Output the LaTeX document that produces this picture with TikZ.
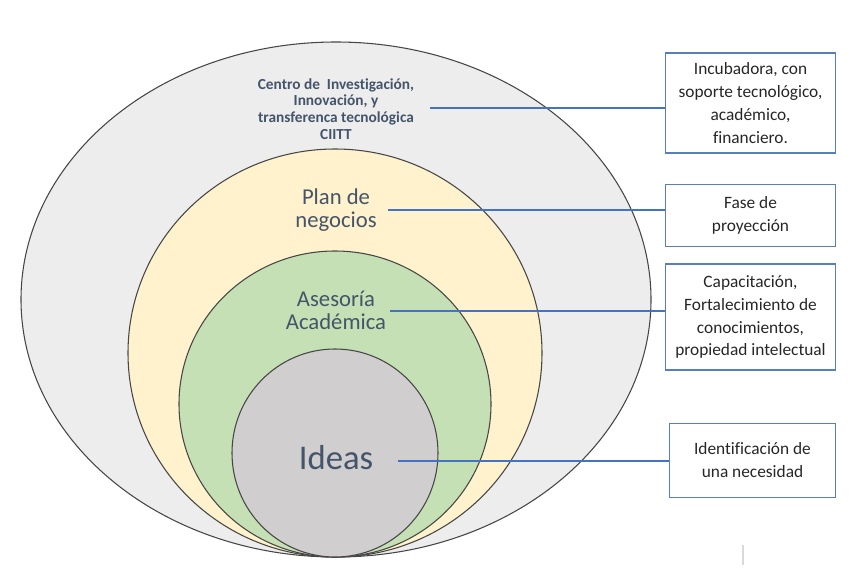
\documentclass[tikz,border=0pt]{standalone}
\usepackage{fontspec}
\setmainfont{Carlito}[Ligatures=NoCommon]
\usepackage{tikz}
\usetikzlibrary{positioning,calc}
\definecolor{outergray}{RGB}{237,237,237}
\definecolor{paleyellow}{RGB}{255,242,204}
\definecolor{palegreen}{RGB}{197,224,180}
\definecolor{midgray}{RGB}{208,206,206}
\definecolor{rimgray}{RGB}{70,70,70}
\definecolor{slate}{RGB}{68,84,106}
\definecolor{linkblue}{RGB}{68,114,196}
\definecolor{boxblue}{RGB}{90,125,190}
\tikzset{
  ring/.style={draw=rimgray, line width=0.8pt},
  ringlabel/.style={align=center, text=slate, inner sep=0pt},
  notebox/.style={draw=boxblue, line width=0.9pt, align=center, text=black!85,
    font=\fontsize{13}{17.2}\selectfont, inner sep=1pt},
  link/.style={draw=linkblue, line width=0.9pt}
}
\begin{document}
\begin{tikzpicture}[x=0.75pt, y=-0.75pt]
\useasboundingbox (0,0) rectangle (865,585);

% nested rings, all touching at the bottom
\draw[ring, fill=outergray] (336,299.5) ellipse [x radius=315, y radius=257.5];
\draw[ring, fill=paleyellow] (335,353) ellipse [x radius=207, y radius=204];
\draw[ring, fill=palegreen] (335,404) ellipse [x radius=156, y radius=153];
\draw[ring, fill=midgray] (335,453) ellipse [x radius=103, y radius=104];

\node[ringlabel, font=\bfseries\fontsize{11.5}{12.5}\selectfont] (ciitt) at (336,109)
  {Centro de~ Investigación,\\Innovación, y\\transferenca tecnológica\\CIITT};
\node[ringlabel, font=\fontsize{17}{17.3}\selectfont] (plan) at (336,210) {Plan de\\negocios};
\node[ringlabel, font=\fontsize{17}{17.3}\selectfont] (asesoria) at (336,310) {Asesoría\\Académica};
\node[ringlabel, font=\fontsize{26}{30}\selectfont] (ideas) at (336,458) {Ideas};

% notes on the right
\node[notebox, minimum width=127pt, minimum height=75pt] (incub) at (750.5,103)
  {Incubadora, con\\soporte tecnológico,\\académico,\\financiero.};
\node[notebox, minimum width=127pt, minimum height=46pt] (fase) at (750.5,215.5)
  {Fase de\\proyección};
\node[notebox, minimum width=127pt, minimum height=79.5pt] (capac) at (750.5,317)
  {Capacitación,\\Fortalecimiento de\\conocimientos,\\propiedad intelectual};
\node[notebox, minimum width=124pt, minimum height=56pt] (ident) at (752.5,460.5)
  {Identificación de\\una necesidad};

\coordinate (p1) at (430,108);
\coordinate (p2) at (388,210);
\coordinate (p3) at (390,311);
\coordinate (p4) at (398,461);
\draw[link] (p1) -- (incub.west |- p1);
\draw[link] (p2) -- (fase.west |- p2);
\draw[link] (p3) -- (capac.west |- p3);
\draw[link] (p4) -- (ident.west |- p4);

\coordinate (t1) at (743,545);
\coordinate (t2) at (743,565);
\draw[black!15, line width=1.2pt] (t1) -- (t2);
\end{tikzpicture}
\end{document}
